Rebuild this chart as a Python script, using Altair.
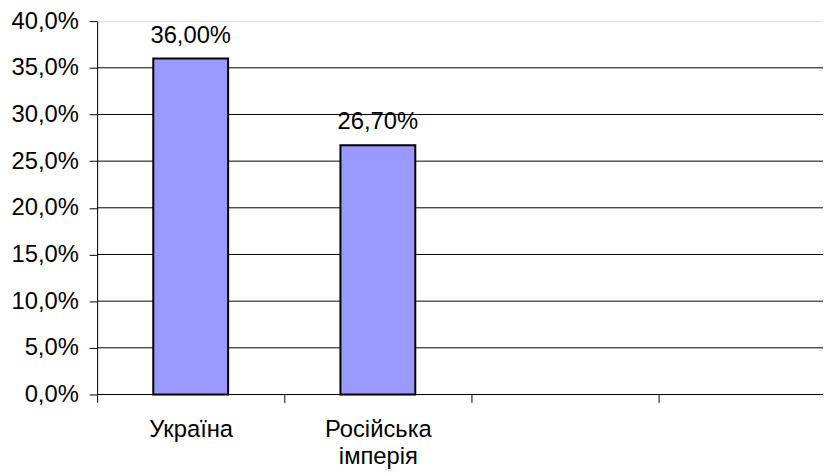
import altair as alt
import pandas as pd

categories = ["Україна", "Російська імперія", " ", "  "]
values = [0.36, 0.267, None, None]
y_ticks = [0.0, 0.05, 0.10, 0.15, 0.20, 0.25, 0.30, 0.35, 0.40]
grid_values = [0.0, 0.05, 0.10, 0.15, 0.20, 0.25, 0.30, 0.35]

df = pd.DataFrame({"cat": categories, "val": values})
grid_df = pd.DataFrame({"g": grid_values})

FONT = "Liberation Sans"
FS = 24
W = 733
H = 377

x_scale = alt.Scale(domain=categories, range=[0, 756], paddingInner=0, paddingOuter=0)
y_scale = alt.Scale(domain=[0, 0.4], nice=False)

y_axis = alt.Axis(values=y_ticks, grid=False, domain=True, domainColor="black",
                  tickSize=8, tickColor="black", labelPadding=11,
                  labelFont=FONT, labelFontSize=FS, labelColor="black",
                  labelExpr="replace(format(datum.value, '.1%'), '.', ',')")

grid = alt.Chart(grid_df).mark_rule(color="black", strokeWidth=1).encode(
    y=alt.Y("g:Q", scale=y_scale, axis=y_axis, title=None)
)

bars = alt.Chart(df).mark_bar(color="#9999FF", stroke="black", strokeWidth=2,
                              width=alt.RelativeBandSize(0.4)).encode(
    x=alt.X("cat:N", scale=x_scale, sort=categories, title=None,
            axis=alt.Axis(domain=False, grid=False, ticks=True, tickSize=8, tickColor="black",
                          tickBand="extent", labelAngle=0, labelPadding=15,
                          labelFont=FONT, labelFontSize=FS, labelColor="black",
                          labelExpr="split(datum.label, ' ')", labelLineHeight=28,
                          labelBaseline="top")),
    y=alt.Y("val:Q", scale=y_scale, title=None, axis=y_axis),
)

labels = alt.Chart(df).transform_filter("isValid(datum.val)").transform_calculate(
    lbl="replace(format(datum.val, '.2%'), '.', ',')"
).mark_text(font=FONT, fontSize=FS, color="black", baseline="alphabetic", dy=-16).encode(
    x=alt.X("cat:N", scale=x_scale, sort=categories),
    y=alt.Y("val:Q", scale=y_scale),
    text="lbl:N",
)

chart = alt.layer(grid, bars, labels).properties(
    width=W, height=H,
    autosize=alt.AutoSizeParams(type="none"),
    padding={"left": 90, "top": 11, "right": 0, "bottom": 75},
).configure_view(stroke=None).configure(background="white")

chart.save("out.html", embed_options={"renderer": "svg", "actions": False})
